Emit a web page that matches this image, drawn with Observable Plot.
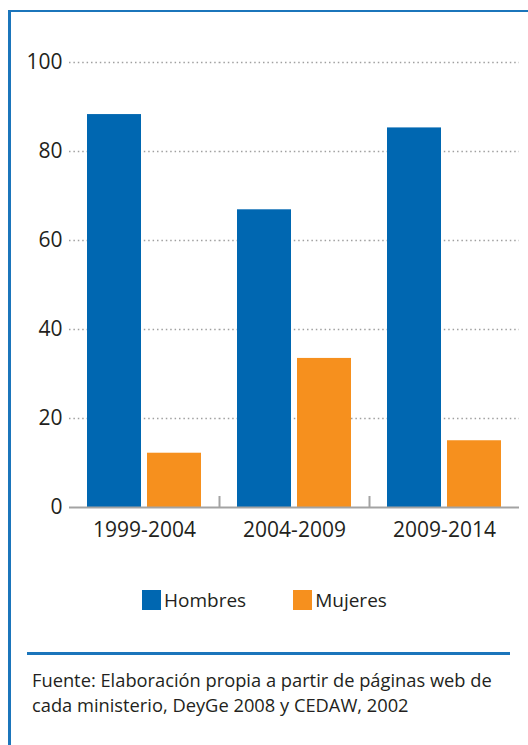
<!DOCTYPE html>
<html>
<head>
<meta charset="utf-8">
<script src="https://cdn.jsdelivr.net/npm/d3@7"></script>
<script src="https://cdn.jsdelivr.net/npm/@observablehq/plot@0.6"></script>
<style>
  html, body { margin: 0; padding: 0; background: #fff; }
  #wrap { position: relative; width: 528px; height: 745px; overflow: hidden; font-family: "Open Sans", sans-serif; color: #231f20; }
  #frame { position: absolute; left: 8px; top: 10px; width: 600px; height: 800px; border-top: 2.5px solid #1b75bb; border-left: 3px solid #1b75bb; box-sizing: border-box; }
  #chart { position: absolute; left: 0; top: 0; }
  #legend { position: absolute; top: 590px; left: 142px; display: flex; font-size: 19px; }
  .item { display: flex; align-items: center; margin-right: 47px; height: 20px; }
  .sw { width: 19px; height: 20px; margin-right: 3px; }
  #sep { position: absolute; left: 27px; width: 483px; top: 652px; height: 2.5px; background: #1b75bb; }
  #caption { position: absolute; left: 32px; top: 667px; font-size: 18.3px; line-height: 25px; width: 495px; }
</style>
</head>
<body>
<div id="wrap">
  <div id="frame"></div>
  <div id="chart"></div>
  <div id="legend"></div>
  <div id="sep"></div>
  <div id="caption">Fuente: Elaboración propia a partir de páginas web de<br>cada ministerio, DeyGe 2008 y CEDAW, 2002</div>
</div>
<script>
const periods = ["1999-2004", "2004-2009", "2009-2014"];
const series = ["Hombres", "Mujeres"];
const hombres = [88.3, 66.9, 85.3];
const mujeres = [12.2, 33.5, 15.0];
const colors = ["#0067b1", "#f6901e"];
const yTicks = [0, 20, 40, 60, 80, 100];

const data = [];
periods.forEach((p, i) => {
  data.push({period: p, sex: series[0], value: hombres[i]});
  data.push({period: p, sex: series[1], value: mujeres[i]});
});

const plot = Plot.plot({
  width: 528,
  height: 550,
  marginLeft: 69,
  marginRight: 9,
  marginTop: 62,
  marginBottom: 43,
  style: {fontFamily: "Open Sans", fontSize: "21px", color: "#231f20", background: "transparent"},
  fx: {domain: periods, padding: 0, axis: "bottom", tickSize: 0, tickPadding: 15, label: null},
  x: {domain: series, paddingInner: 0.1, paddingOuter: 0.3, axis: null},
  y: {domain: [0, 100], ticks: yTicks, tickSize: 0, tickPadding: 7, label: null},
  color: {domain: series, range: colors},
  marks: [
    Plot.gridY(yTicks.filter(d => d > 0), {stroke: "#a0a0a0", strokeOpacity: 1, strokeWidth: 1.5, strokeDasharray: "1.5,2.9"}),
    Plot.barY(data, {fx: "period", x: "sex", y: "value", fill: "sex"}),
    Plot.ruleY([0], {stroke: "#a3a3a3", strokeWidth: 2}),
    Plot.ruleX(periods.slice(0, -1), {fx: d => d, x: () => series[1], y1: 0, y2: 0, dx: 45, insetTop: -11, stroke: "#a3a3a3", strokeWidth: 2})
  ]
});
document.getElementById("chart").appendChild(plot);

const legend = d3.select("#legend");
series.forEach((s, i) => {
  const it = legend.append("div").attr("class", "item");
  it.append("div").attr("class", "sw").style("background", colors[i]);
  it.append("span").text(s);
});
</script>
</body>
</html>
